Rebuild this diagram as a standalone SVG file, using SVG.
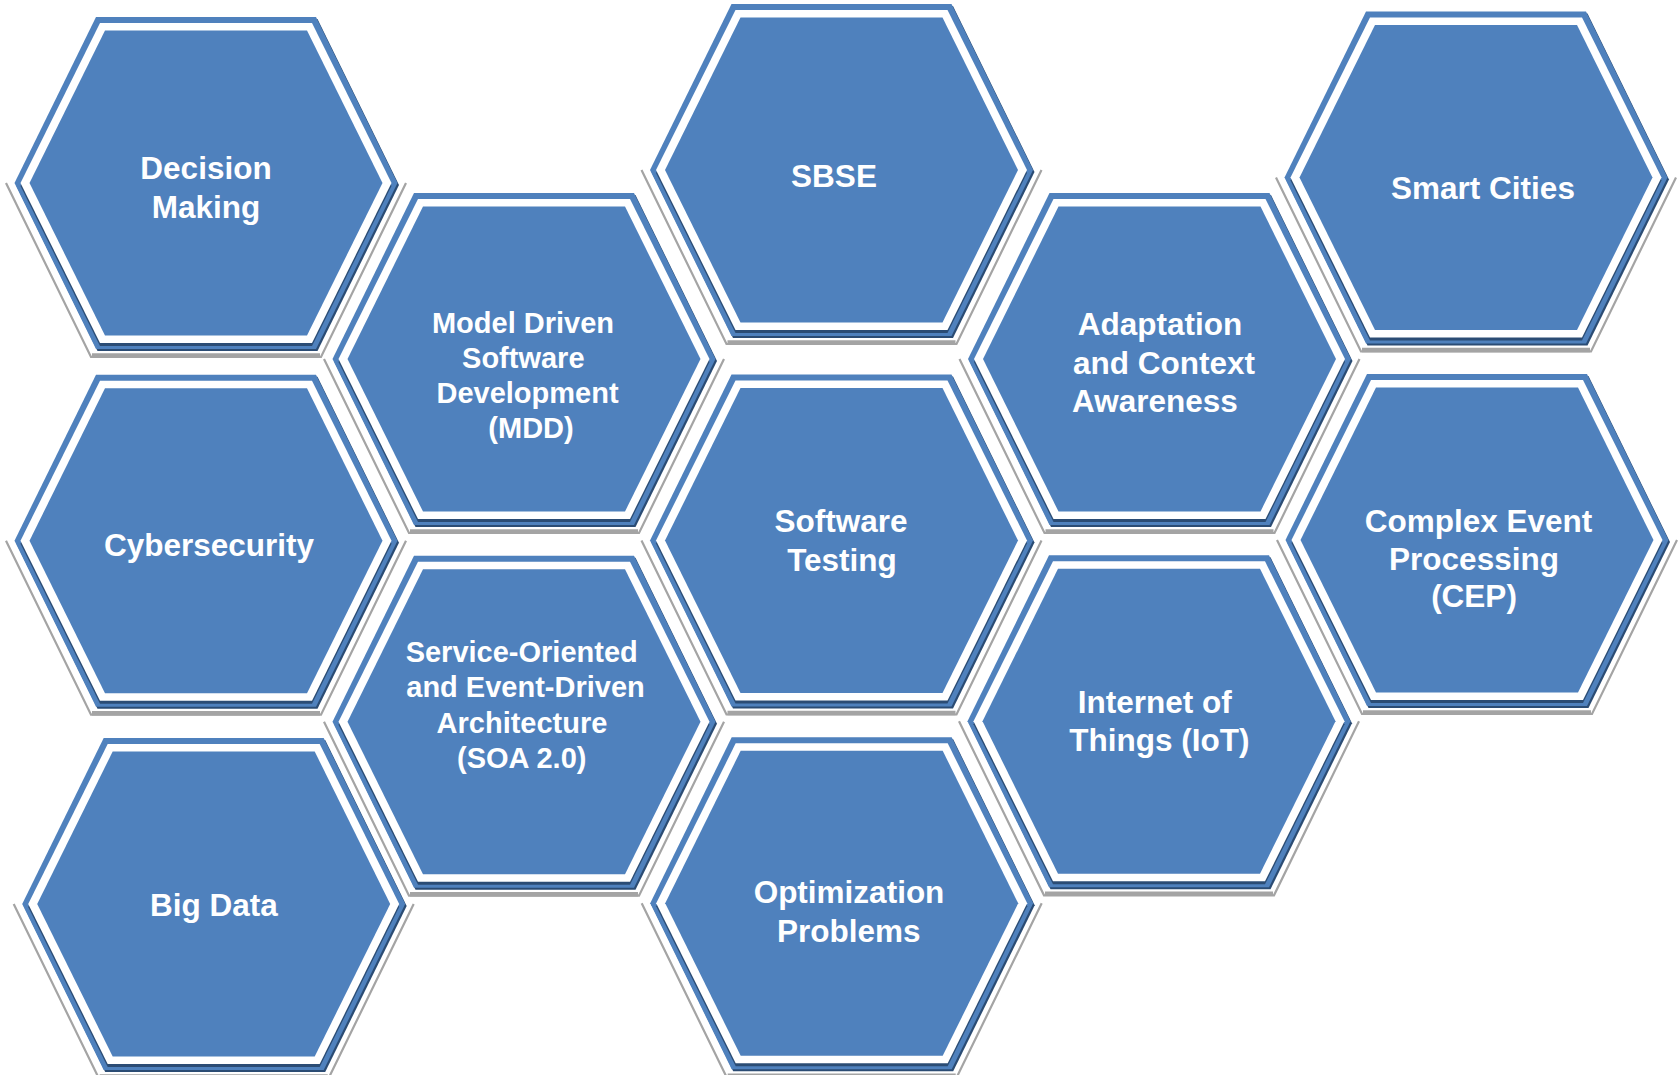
<svg xmlns="http://www.w3.org/2000/svg" xmlns:xlink="http://www.w3.org/1999/xlink" width="1680" height="1075" viewBox="0 0 1680 1075">
<style>
.blue{fill:#4F81BD}
.navy{fill:#2B4C74}
.white{fill:#FFFFFF}
.gs{fill:none;stroke:#A4A4A4;stroke-width:2.2;stroke-linejoin:miter}
.gb{fill:none;stroke:#A4A4A4;stroke-width:4.5}
text{font-family:"Liberation Sans",Arial,sans-serif;font-weight:bold;fill:#FFFFFF;text-anchor:middle}
.f1{font-size:31.5px}
.f2{font-size:29px}
</style>
<defs>
<polygon id="hOuter" points="-110,-166 110,-166 191.5,0 110,166 -110,166 -191.5,0"/>
<polygon id="hWhite" points="-106,-160 106,-160 185.5,0 106,160 -106,160 -185.5,0"/>
<polygon id="hInner" points="-101,-152.5 101,-152.5 176.5,0 101,152.5 -101,152.5 -176.5,0"/>
<g id="hex">
<path class="gs" d="M-200,0 L-115,174 L115,174 L200,0"/>
<path class="gb" d="M-114,172.5 L114,172.5"/>
<use xlink:href="#hOuter" class="navy" x="1.5" y="2"/>
<use xlink:href="#hOuter" class="blue"/>
<use xlink:href="#hWhite" class="navy" y="3"/>
<use xlink:href="#hWhite" class="white"/>
<use xlink:href="#hInner" class="blue"/>
</g>
</defs>
<rect width="1680" height="1075" fill="#FFFFFF"/>
<g id="connectors"/>

<g id="n-decision-making">
<use xlink:href="#hex" x="206" y="183"/>
<text class="f1" x="206" y="179">Decision</text>
<text class="f1" x="206" y="218">Making</text>
</g>

<g id="n-mdd">
<use xlink:href="#hex" x="524" y="359"/>
<text class="f2" x="523" y="332.7">Model Driven</text>
<text class="f2" x="523.3" y="367.7">Software</text>
<text class="f2" x="527.5" y="402.7">Development</text>
<text class="f2" x="531" y="438">(MDD)</text>
</g>

<g id="n-sbse">
<use xlink:href="#hex" x="841.5" y="170"/>
<text class="f1" x="834" y="186.7">SBSE</text>
</g>

<g id="n-adaptation">
<use xlink:href="#hex" x="1159.5" y="359"/>
<text class="f1" x="1160" y="335">Adaptation</text>
<text class="f1" x="1164" y="374">and Context</text>
<text class="f1" x="1155" y="411.7">Awareness</text>
</g>

<g id="n-smart-cities">
<use xlink:href="#hex" x="1476" y="177.5"/>
<text class="f1" x="1483" y="199">Smart Cities</text>
</g>

<g id="n-cybersecurity">
<use xlink:href="#hex" x="206" y="540.7"/>
<text class="f1" x="209" y="555.5">Cybersecurity</text>
</g>

<g id="n-software-testing">
<use xlink:href="#hex" x="841.5" y="540.5"/>
<text class="f1" x="841" y="532.3">Software</text>
<text class="f1" x="842" y="571">Testing</text>
</g>

<g id="n-cep">
<use xlink:href="#hex" x="1477" y="540"/>
<text class="f1" x="1478.5" y="531.7">Complex Event</text>
<text class="f1" x="1474" y="570">Processing</text>
<text class="f1" x="1474" y="606.7">(CEP)</text>
</g>

<g id="n-soa">
<use xlink:href="#hex" x="524" y="721.7"/>
<text class="f2" x="521.7" y="661.7">Service-Oriented</text>
<text class="f2" x="525.5" y="696.7">and Event-Driven</text>
<text class="f2" x="522" y="732.7">Architecture</text>
<text class="f2" x="521.7" y="768.3">(SOA 2.0)</text>
</g>

<g id="n-iot">
<use xlink:href="#hex" x="1159" y="721.3"/>
<text class="f1" x="1154.7" y="712.7">Internet of</text>
<text class="f1" x="1159.3" y="750.7">Things (IoT)</text>
</g>

<g id="n-big-data">
<use xlink:href="#hex" x="213.7" y="904"/>
<text class="f1" x="214" y="916">Big Data</text>
</g>

<g id="n-optimization">
<use xlink:href="#hex" x="841.7" y="903.3"/>
<text class="f1" x="849" y="902.7">Optimization</text>
<text class="f1" x="848.8" y="941.7">Problems</text>
</g>
</svg>
